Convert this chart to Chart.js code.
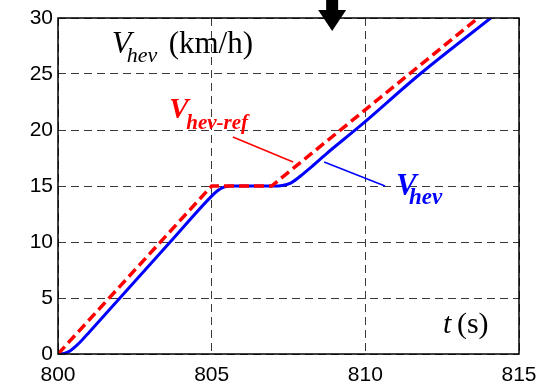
<!DOCTYPE html>
<html>
<head>
<meta charset="utf-8">
<script src="https://cdn.jsdelivr.net/npm/chart.js@4"></script>
<style>
  html, body { margin: 0; padding: 0; background: #fff; }
  #wrap { width: 549px; height: 382px; }
</style>
</head>
<body>
<div id="wrap"><canvas id="speedChart" width="549" height="382"></canvas></div>
<script>
// reference speed (red dashed)
const refTime = [800, 805, 806.95, 813.67];
const refSpeed = [0, 15, 15, 30];

// actual vehicle speed (blue)
const hevTime = [800, 800.2, 800.4, 800.6, 800.8, 801, 803.65, 805, 805.2, 805.4, 805.6,
  807.0, 807.3, 807.55, 807.85, 808.2, 808.74, 809.83, 811.78, 814.08];
const hevSpeed = [0, 0.05, 0.3, 0.75, 1.3, 1.9, 10, 14.1, 14.6, 14.9, 15,
  15, 15.05, 15.24, 15.8, 16.6, 17.9, 20.36, 25, 30];

const xTicks = [800, 805, 810, 815];
const yTicks = [0, 5, 10, 15, 20, 25, 30];

const toPoints = (xs, ys) => xs.map((x, i) => ({ x: x, y: ys[i] }));

const tickFont = { family: "'Liberation Sans', Arial, sans-serif", size: 21 };

// text, arrow and frame drawn on top of the plot
const overlay = {
  id: "overlay",
  afterDatasetsDraw(chart) {
    const ctx = chart.ctx;
    const a = chart.chartArea;
    const xs = chart.scales.x;
    const ys = chart.scales.y;
    const px = (v) => xs.getPixelForValue(v);
    const py = (v) => ys.getPixelForValue(v);
    const serif = "'Liberation Serif', 'Times New Roman', serif";

    ctx.save();
    // frame
    ctx.strokeStyle = "#000";
    ctx.lineWidth = 1.5;
    ctx.setLineDash([]);
    ctx.strokeRect(a.left, a.top, a.right - a.left, a.bottom - a.top);

    // arrow above the plot
    const ax = px(808.92);
    ctx.fillStyle = "#000";
    ctx.fillRect(ax - 6, 0, 12, 11);
    ctx.beginPath();
    ctx.moveTo(ax - 14, 10);
    ctx.lineTo(ax + 14, 10);
    ctx.lineTo(ax, 31);
    ctx.closePath();
    ctx.fill();

    ctx.textBaseline = "alphabetic";
    ctx.textAlign = "left";

    // V_hev (km/h)
    ctx.fillStyle = "#000";
    ctx.font = "italic 32px " + serif;
    let x0 = px(801.75), b0 = py(26.9);
    ctx.fillText("V", x0, b0);
    ctx.font = "italic 22px " + serif;
    ctx.fillText("hev", x0 + 15, b0 + 9);
    ctx.font = "31px " + serif;
    ctx.fillText("(km/h)", px(803.6), b0);

    // V_hev-ref label (red)
    ctx.fillStyle = "#ff0000";
    ctx.font = "italic bold 29px " + serif;
    x0 = px(803.62); b0 = py(21.1);
    ctx.fillText("V", x0, b0);
    ctx.font = "italic bold 21px " + serif;
    ctx.fillText("hev-ref", x0 + 17, b0 + 11);

    // V_hev label (blue)
    ctx.fillStyle = "#0000ff";
    ctx.font = "italic bold 31px " + serif;
    x0 = px(811.0); b0 = py(14.2);
    ctx.fillText("V", x0, b0);
    ctx.font = "italic bold 23px " + serif;
    ctx.fillText("hev", x0 + 13, b0 + 9);

    // t (s)
    ctx.fillStyle = "#000";
    ctx.font = "italic 30px " + serif;
    ctx.fillText("t", px(812.53), py(1.9));
    ctx.font = "30px " + serif;
    ctx.fillText("(s)", px(812.98), py(1.9));

    // leader lines
    ctx.lineWidth = 1.5;
    ctx.strokeStyle = "#ff0000";
    ctx.beginPath();
    ctx.moveTo(px(805.69), py(19.37));
    ctx.lineTo(px(807.65), py(17.14));
    ctx.stroke();
    ctx.strokeStyle = "#0000ff";
    ctx.beginPath();
    ctx.moveTo(px(808.66), py(17.14));
    ctx.lineTo(px(810.64), py(15.0));
    ctx.stroke();
    ctx.restore();
  },
};

new Chart(document.getElementById("speedChart"), {
  type: "line",
  data: {
    datasets: [
      {
        label: "Vhev-ref",
        data: toPoints(refTime, refSpeed),
        borderColor: "#ff0000",
        borderWidth: 3.5,
        borderDash: [10, 5],
        pointRadius: 0,
        tension: 0,
        fill: false,
      },
      {
        label: "Vhev",
        data: toPoints(hevTime, hevSpeed),
        borderColor: "#0000ff",
        borderWidth: 3,
        pointRadius: 0,
        cubicInterpolationMode: "monotone",
        fill: false,
      },
    ],
  },
  options: {
    responsive: false,
    animation: false,
    layout: { padding: { top: 18, right: 30, left: 0, bottom: 0 } },
    plugins: { legend: { display: false }, tooltip: { enabled: false } },
    scales: {
      x: {
        type: "linear",
        min: 800,
        max: 815,
        afterBuildTicks: (s) => { s.ticks = xTicks.map((v) => ({ value: v })); },
        afterFit: (s) => { s.height = 28; },
        ticks: { font: tickFont, color: "#000", padding: 9, maxRotation: 0 },
        grid: { color: "#3a3a3a", lineWidth: 1, tickLength: 0, drawTicks: true },
        border: { display: false, dash: [8, 5] },
      },
      y: {
        min: 0,
        max: 30,
        afterBuildTicks: (s) => { s.ticks = yTicks.map((v) => ({ value: v })); },
        afterFit: (s) => { s.width = 58; },
        ticks: { font: tickFont, color: "#000", padding: 5 },
        grid: { color: "#3a3a3a", lineWidth: 1, tickLength: 0 },
        border: { display: false, dash: [8, 5] },
      },
    },
  },
  plugins: [overlay],
});
</script>
</body>
</html>
